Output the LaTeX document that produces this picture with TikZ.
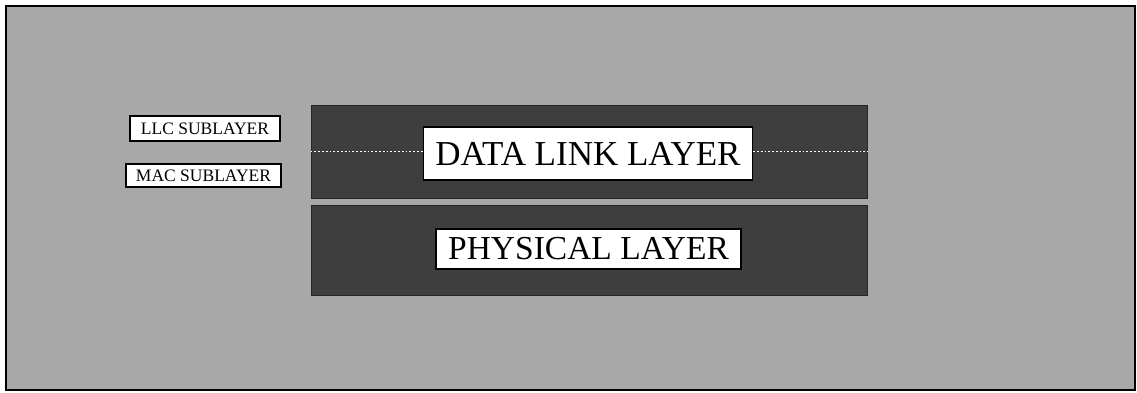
\documentclass[tikz,border=0pt]{standalone}
\usepackage{fontspec}
\setmainfont{Liberation Serif}
\definecolor{screen}{HTML}{A8A8A8}
\definecolor{darkscreen}{HTML}{3E3E3E}

\begin{document}
\begin{tikzpicture}[x=1pt,y=-1pt,
		layer box/.style={rectangle,draw=black!85,fill=darkscreen,line width=1pt,inner sep=0pt},
		layer label/.style={rectangle,draw=black,fill=white,line width=1.2pt,inner sep=0pt,font=\fontsize{35}{38}\selectfont},
		sub label/.style={rectangle,draw=black,fill=white,line width=1.4pt,inner sep=0pt,font=\fontsize{17.5}{19}\selectfont}]
		\useasboundingbox (0,0) rectangle (1137,392);
		\node[rectangle,draw=black,fill=screen,line width=1.6pt,minimum width=1129pt,minimum height=384pt,inner sep=0pt] (frame) at (570.5,198) {};
		\node[layer box,minimum width=556pt,minimum height=93pt] (dlbox) at (589,151.5) {};
		\node[layer box,minimum width=556pt,minimum height=90pt] (phybox) at (589,250) {};
		\node[layer label,minimum width=329pt,minimum height=53pt] (dllabel) at (588,153.5) {DATA LINK LAYER};
		\node[layer label,minimum width=305pt,minimum height=40pt,font=\fontsize{33.5}{36}\selectfont] (phylabel) at (588.5,249) {PHYSICAL LAYER};
		\node[sub label,minimum width=150pt,minimum height=25pt] (llc) at (205,128.5) {LLC SUBLAYER};
		\node[sub label,minimum width=155pt,minimum height=23pt] (mac) at (203.5,175.5) {MAC SUBLAYER};
		\path[white,line width=1.8pt,dotted]
		(dlbox.west) edge (dlbox.west -| dllabel.west)
		(dlbox.east -| dllabel.east) edge (dlbox.east);
		\end{tikzpicture}
\end{document}
